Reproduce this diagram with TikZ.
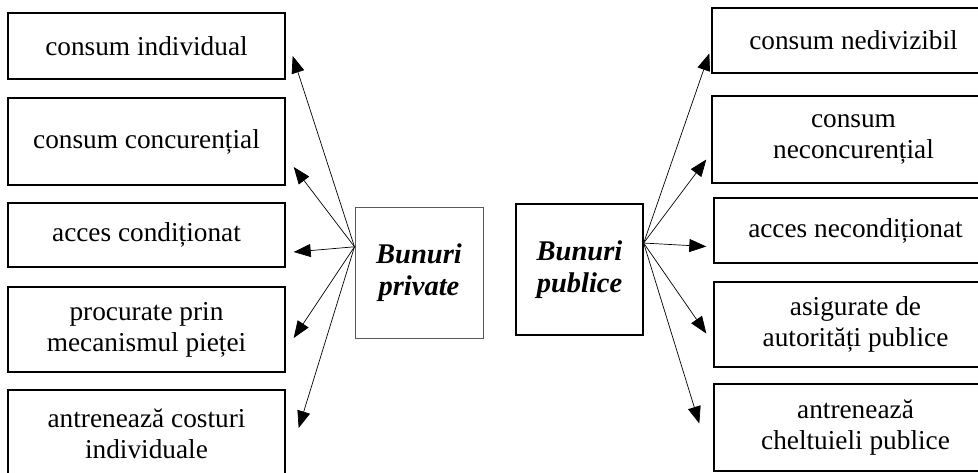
\documentclass[tikz,border=0pt]{standalone}
\usepackage{fontspec}
\setmainfont{Liberation Serif}
\usetikzlibrary{arrows.meta,calc}
\begin{document}
\begin{tikzpicture}[x=1pt,y=-1pt,
  box/.style={draw=black,line width=1.4pt,align=center,inner sep=0pt,
    font=\fontsize{27.3}{31}\selectfont},
  lbox/.style={box,minimum width=277pt},
  rbox/.style={box,minimum width=283pt},
  cbox/.style={align=center,inner sep=0pt,font=\fontsize{28.5}{32}\selectfont\bfseries\itshape},
  arr/.style={line width=0.7pt,-{Triangle[length=17pt,width=13pt]}}
]
\useasboundingbox (0,0) rectangle (978,473);
% left boxes
\node[lbox,minimum height=66pt] (L1) at (146.5,46) {consum individual};
\node[lbox,minimum height=87pt] (L2) at (146.5,141.5) {consum concurențial};
\node[lbox,minimum height=64pt] (L3) at (146.5,235) {acces condiționat};
\node[lbox,minimum height=85pt] (L4) at (146.5,329.5) {procurate prin\\mecanismul pieței};
\node[lbox,minimum height=88pt] (L5) at (146.5,434) {antrenează costuri\\individuale};
% center boxes
\node[cbox,draw=black!65,line width=1pt,minimum width=128pt,minimum height=130pt] (P) at (419,273) {Bunuri\\private};
\node[cbox,draw=black,line width=1.3pt,minimum width=127pt,minimum height=131pt] (Q) at (579.5,269.5) {Bunuri\\publice};
% right boxes
\node[rbox,minimum height=65pt] (R1) at (853.5,40.5) {consum nedivizibil};
\node[rbox,minimum height=87pt] (R2) at (853.5,139.5) {consum\\neconcurențial};
\node[rbox,minimum height=65pt] (R3) at (855.5,230.5) {acces necondiționat};
\node[rbox,minimum height=85pt] (R4) at (855.5,324.5) {asigurate de\\autorități publice};
\node[rbox,minimum height=87pt] (R5) at (855.5,427.5) {antrenează\\cheltuieli publice};
% origins
\coordinate (po) at ($(P.north west)!0.3!(P.south west)$);
\coordinate (qo) at ($(Q.north east)!0.3!(Q.south east)$);
% left arrows
\draw[arr] (po) -- ([shift={(7,10)}]L1.east);
\draw[arr] (po) -- ([shift={(8,25.5)}]L2.east);
\draw[arr] (po) -- ([shift={(8,17)}]L3.east);
\draw[arr] (po) -- ([shift={(8,8.5)}]L4.east);
\draw[arr] (po) -- ([shift={(13,-6)}]L5.east);
% right arrows
\draw[arr] (qo) -- ([shift={(-2,13)}]R1.west);
\draw[arr] (qo) -- ([shift={(-5,20)}]R2.west);
\draw[arr] (qo) -- ([shift={(-7,16)}]R3.west);
\draw[arr] (qo) -- ([shift={(-7,9)}]R4.west);
\draw[arr] (qo) -- ([shift={(-14,-4)}]R5.west);
\end{tikzpicture}
\end{document}
